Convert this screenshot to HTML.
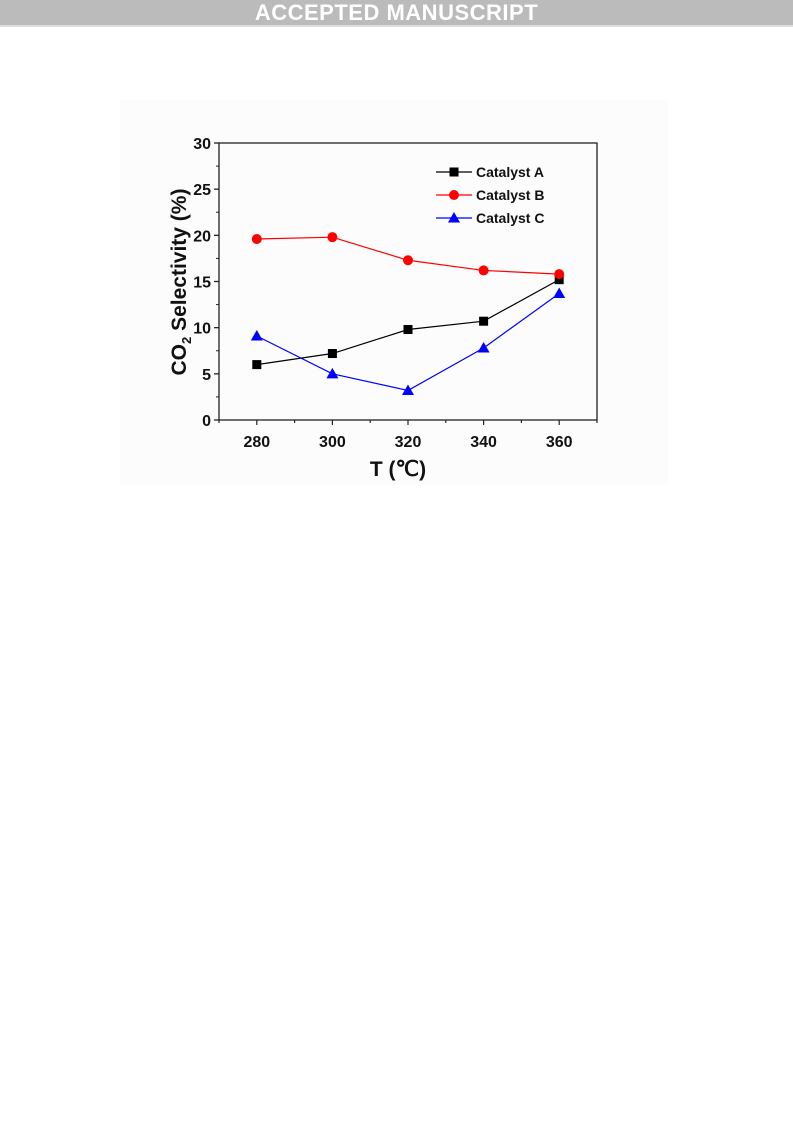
<!DOCTYPE html>
<html><head><meta charset="utf-8"><style>
body{margin:0;width:793px;height:1121px;background:#fff;position:relative;overflow:hidden;font-family:"Liberation Sans",sans-serif}
#banner{position:absolute;left:0;top:0;width:793px;height:25px;background:#bbbbbb;border-bottom:2px solid #ddd;color:#fff;font-weight:bold;font-size:22px;text-align:center;line-height:26px;letter-spacing:0.5px}
</style></head><body>
<div id="banner">ACCEPTED MANUSCRIPT</div>
<svg id="chart" width="793" height="1121" style="position:absolute;left:0;top:0" font-family="'Liberation Sans',sans-serif">
<rect x="120" y="100" width="548" height="385" fill="#fcfcfc"/>
<g id="axes"></g><g id="series"></g><g id="legend"></g>
</svg>
<script>
const categories=[280,300,320,340,360];
const seriesA=[6.0,7.2,9.8,10.7,15.2];
const seriesB=[19.6,19.8,17.3,16.2,15.8];
const seriesC=[9.1,5.0,3.2,7.8,13.7];
const yTicks=[0,5,10,15,20,25,30];
const seriesNames=["Catalyst A","Catalyst B","Catalyst C"];
const NS="http://www.w3.org/2000/svg";
const L=219,R=597,T=143,B=420;
const xs=v=>L+(v-270)/100*(R-L);
const ys=v=>B-v/30*(B-T);
function mk(tag,attrs,parent){const e=document.createElementNS(NS,tag);for(const k in attrs)e.setAttribute(k,attrs[k]);parent.appendChild(e);return e;}
const ax=document.getElementById('axes');
let f=mk('rect',{x:L,y:T,width:R-L,height:B-T,fill:'none',stroke:'#222','stroke-width':1.3},ax);


yTicks.forEach(v=>{
 const y=ys(v);
 mk('line',{x1:L-5,x2:L,y1:y,y2:y,stroke:'#222','stroke-width':1.3},ax);
 if(v<30){const m=ys(v+2.5);mk('line',{x1:L-3,x2:L,y1:m,y2:m,stroke:'#222','stroke-width':1},ax);}
 const t=mk('text',{x:L-8,y:y+6,'text-anchor':'end','font-size':16,'font-weight':'bold',fill:'#111'},ax);
 t.textContent=v;
 
 
});
for(let v=270;v<=370;v+=10){
 const x=xs(v);const major=v%20===0;
 mk('line',{x1:x,x2:x,y1:B,y2:B+(major?5:3),stroke:'#222','stroke-width':1.2},ax);
}
categories.forEach(v=>{
 const t=mk('text',{x:xs(v),y:B+27,'text-anchor':'middle','font-size':16,'font-weight':'bold',fill:'#111'},ax);
 t.textContent=v;
 
 
});
let xt=mk('text',{x:398,y:476,'text-anchor':'middle','font-size':21,'font-weight':'bold',fill:'#111'},ax);
xt.textContent='T (℃)';


let yt=mk('text',{transform:'translate(186,282) rotate(-90)','text-anchor':'middle','font-size':21,'font-weight':'bold',fill:'#111'},ax);
yt.innerHTML='CO<tspan font-size="13" dy="5">2</tspan><tspan dy="-5"> Selectivity (%)</tspan>';


const sg=document.getElementById('series');
function marker(type,x,y,color,parent){
 if(type==='s')return mk('rect',{x:x-4.5,y:y-4.5,width:9,height:9,fill:color},parent);
 if(type==='c')return mk('circle',{cx:x,cy:y,r:5,fill:color},parent);
 return mk('polygon',{points:`${x},${y-6} ${x-6},${y+4.5} ${x+6},${y+4.5}`,fill:color},parent);
}
const defs=[[seriesA,'#000','s','series-catalyst-a'],[seriesB,'#ff0000','c','series-catalyst-b'],[seriesC,'#0000ff','t','series-catalyst-c']];
defs.forEach(([d,c,m,n])=>{
 const g=mk('g',{},sg);
 
 
 mk('polyline',{points:d.map((v,i)=>xs(categories[i])+','+ys(v)).join(' '),fill:'none',stroke:c,'stroke-width':1.2},g);
 d.forEach((v,i)=>{const p=marker(m,xs(categories[i]),ys(v),c,g);
  
  });
});
const lg=document.getElementById('legend');
defs.forEach(([d,c,m,n],i)=>{
 const y=172+i*23;
 const g=mk('g',{},lg);
 
 
 mk('line',{x1:436,x2:472,y1:y,y2:y,stroke:c,'stroke-width':1.2},g);
 marker(m,454,y,c,g);
 const t=mk('text',{x:476,y:y+5,'font-size':14,'font-weight':'bold',fill:'#111'},g);
 t.textContent=seriesNames[i];
});
</script>
</body></html>
